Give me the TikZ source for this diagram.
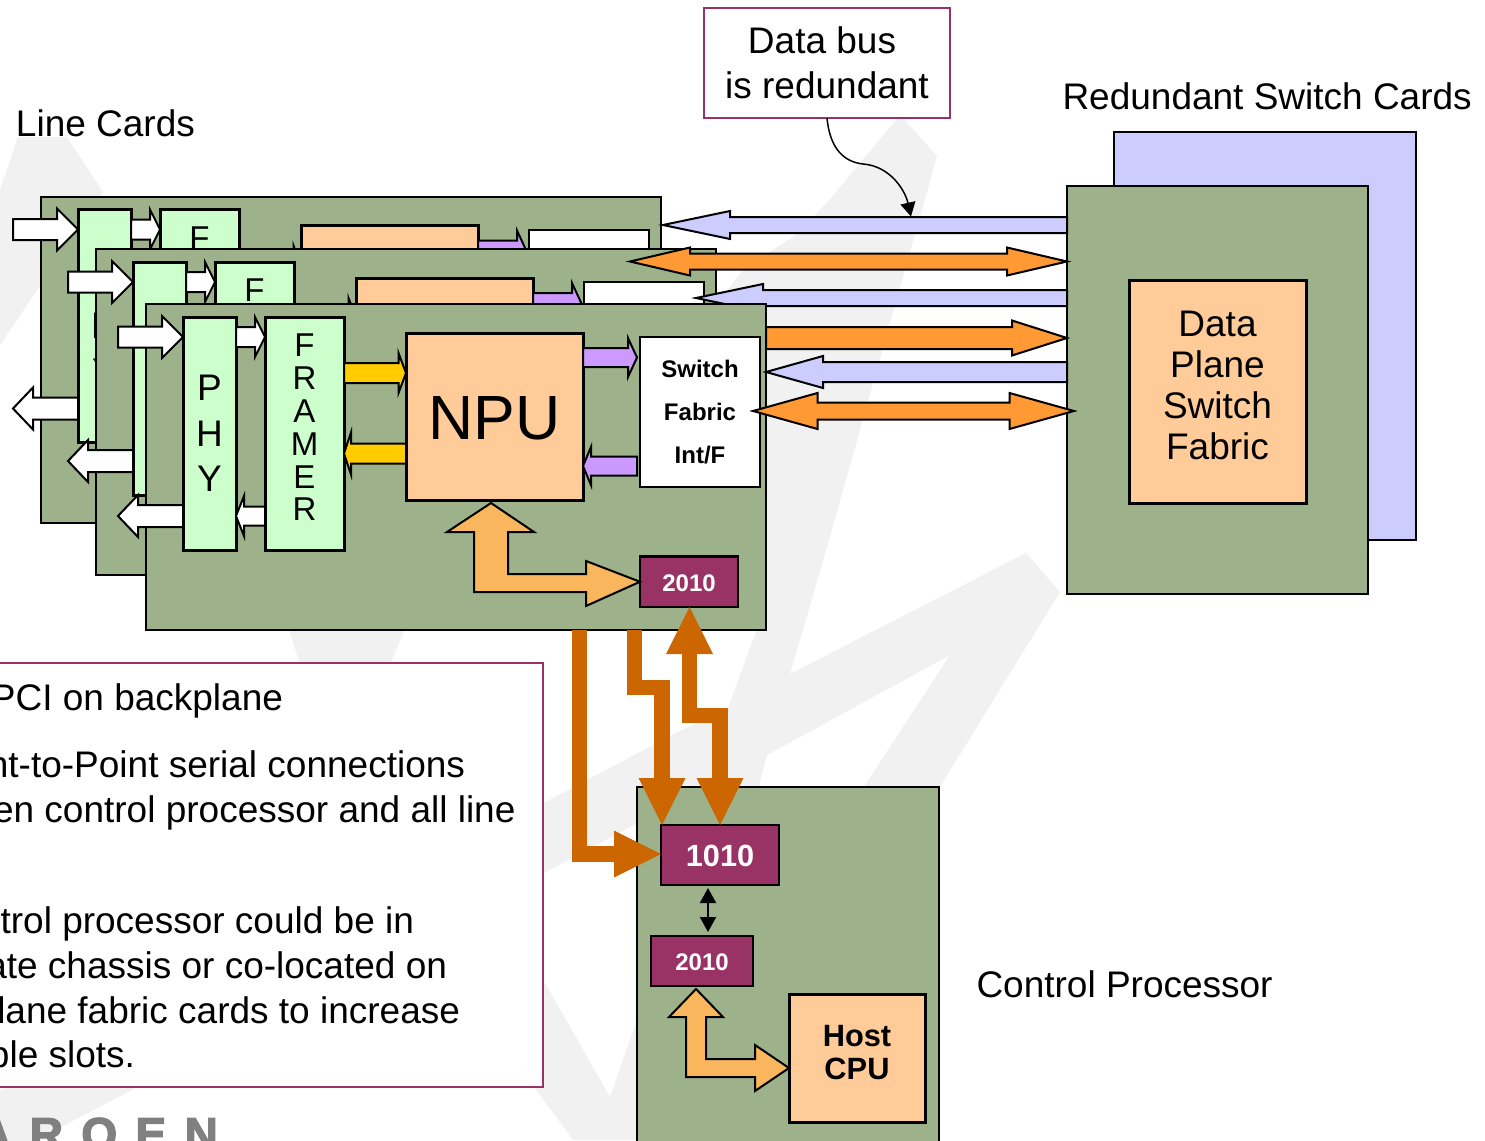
\documentclass[tikz,border=0pt]{standalone}
\usepackage{fontspec}
\setmainfont{Liberation Sans}
\usetikzlibrary{calc,arrows.meta}
\definecolor{cardgreen}{HTML}{9DB28A}
\definecolor{lgreen}{HTML}{CCFFCC}
\definecolor{peach}{HTML}{FFCC99}
\definecolor{lblue}{HTML}{CCCCFF}
\definecolor{bandorange}{HTML}{FF9933}
\definecolor{amber}{HTML}{FFCC00}
\definecolor{lpurple}{HTML}{CC99FF}
\definecolor{dorange}{HTML}{CC6600}
\definecolor{elbowc}{HTML}{F9B65C}
\definecolor{plum}{HTML}{993366}
\definecolor{wmark}{HTML}{F1F1F1}
\newcommand{\fs}[2]{\fontsize{#1}{#2}\selectfont}
\newcommand{\lowr}[2][1pt]{\raisebox{-#1}[\height][\depth]{#2}}
\tikzset{
  x=1pt,y=-1pt,
  baseshape/.style={rectangle,inner sep=0pt,outer sep=0pt,align=center,text=black},
  cardbox/.style={baseshape,draw=black,line width=2pt,fill=cardgreen},
  chipbox/.style={baseshape,draw=black,line width=3pt,fill=lgreen},
  npubox/.style={baseshape,draw=black,line width=3pt,fill=peach},
  swbox/.style={baseshape,draw=black,line width=2pt,fill=white},
  bluebox/.style={baseshape,draw=black,line width=2pt,fill=lblue},
  plumbox/.style={baseshape,draw=black,line width=2.5pt,fill=plum,text=white,font=\fs{24}{28}\bfseries},
  notebox/.style={baseshape,draw=plum,line width=2pt,fill=white},
  plain/.style={inner sep=0pt,outer sep=0pt,font=\fs{37}{45},text=black},
  arrowline/.style={draw=black,line width=2pt,miter limit=8},
  wideline/.style={draw=dorange,line width=15.5pt},
  wedgetip/.tip={Triangle[length=47pt,width=47pt,line width=0pt]},
}
\newcommand{\dbox}[7][]{\node[#6,minimum width={(#4-(#2))*1pt},minimum height={(#5-(#3))*1pt},#1] (#7)
  at ({((#2)+(#4))/2},{((#3)+(#5))/2})}
\newcommand{\harrow}[6][]{\draw[arrowline,#1] let \p1=(#2),\p2=(#3),\n1={ifthenelse(\x2>\x1,1,-1)} in
  (\x1,\y1+#4pt)--(\x2-\n1*#5pt,\y1+#4pt)--(\x2-\n1*#5pt,\y1+#6pt)--(\x2,\y2)--
  (\x2-\n1*#5pt,\y1-#6pt)--(\x2-\n1*#5pt,\y1-#4pt)--(\x1,\y1-#4pt)--cycle;}
\newcommand{\hdarrow}[6][]{\draw[arrowline,#1] let \p1=(#2),\p2=(#3),\n1={ifthenelse(\x2>\x1,1,-1)} in
  (\x1,\y1)--(\x1+\n1*#5pt,\y1+#6pt)--(\x1+\n1*#5pt,\y1+#4pt)--(\x2-\n1*#5pt,\y1+#4pt)--(\x2-\n1*#5pt,\y1+#6pt)--(\x2,\y2)--
  (\x2-\n1*#5pt,\y1-#6pt)--(\x2-\n1*#5pt,\y1-#4pt)--(\x1+\n1*#5pt,\y1-#4pt)--(\x1+\n1*#5pt,\y1-#6pt)--cycle;}
% prefix, dx, dy, switch extra dx, PHY text, framer text, NPU text, switch text
\newcommand{\linecard}[8]{%
  \def\cdx{#2}\def\cdy{#3}\def\csw{#4}%
  \dbox{146+\cdx}{304+\cdy}{766+\cdx}{630+\cdy}{cardbox}{#1card}{};
  \dbox{183+\cdx}{317+\cdy}{236+\cdx}{550+\cdy}{chipbox,font=\fs{37}{45.5}}{#1phy}{#5};
  \dbox{265+\cdx}{317+\cdy}{344+\cdx}{550+\cdy}{chipbox,font=\fs{33}{32.8}}{#1fr}{#6};
  \dbox{406+\cdx}{333+\cdy}{583+\cdx}{500+\cdy}{npubox,font=\fs{62.5}{70}}{#1npu}{#7};
  \dbox{640+\cdx+\csw}{337+\cdy}{760+\cdx+\csw}{487+\cdy}{swbox,font=\fs{24}{43}\bfseries}{#1sw}{#8};
  \coordinate (#1ri) at (118+\cdx,337+\cdy);
  \coordinate (#1ro) at (118+\cdx,516+\cdy);
  \coordinate (#1ryo) at (0,373+\cdy);
  \coordinate (#1ryb) at (0,453.5+\cdy);
  \coordinate (#1rpo) at (0,357.5+\cdy);
  \coordinate (#1rpb) at (0,466+\cdy);
  \harrow[fill=white]{#1ri}{#1phy.west |- #1ri}{10.5}{21}{21}
  \harrow[fill=white]{#1phy.east |- #1ri}{#1fr.west |- #1ri}{10}{10}{20}
  \harrow[fill=white]{#1phy.west |- #1ro}{#1ro}{11}{20}{21}
  \harrow[fill=white]{#1fr.west |- #1ro}{#1phy.east |- #1ro}{9.5}{8}{20}
  \harrow[fill=amber]{#1fr.east |- #1ryo}{#1npu.west |- #1ryo}{10}{7.5}{20}
  \harrow[fill=amber]{#1npu.west |- #1ryb}{#1fr.east |- #1ryb}{10}{7}{21}
  \harrow[fill=lpurple]{#1npu.east |- #1rpo}{$(#1sw.west |- #1rpo)+(-3,0)$}{9.5}{9}{19.5}
  \harrow[fill=lpurple]{$(#1sw.west |- #1rpb)+(-3,0)$}{#1npu.east |- #1rpb}{9.5}{8}{19}
}
\newcommand{\frup}{\\[-20.8pt]\mbox{}}
\begin{document}
\begin{tikzpicture}
\path[use as bounding box] (0,0) rectangle (1485,1140);
\clip (0,0) rectangle (1485,1140);
\fill[white] (0,0) rectangle (1485,1140);
% watermark
\fill[wmark] (900,115)--(937,156)--(829,540)--(790,674)--(1026,553)--(1060,592)--(938,790)--(862,790)--(950,655)--(767,755)--(758,790)--(700,790)--(540,875)--(105,1104)--(0,1159)--(0,1091)--(540,805)--(672,735)--(728,708)--(764,610)--(740,400)--(717,303)--(743,270)--(800,232)--(831,198)--cycle;
\fill[wmark] (18,137)--(67,137)--(103,192)--(0,345)--(0,190)--cycle;
\fill[wmark] (286,620)--(408,620)--(388,670)--(302,670)--cycle;
\fill[wmark] (500,960)--(545,983)--(610,1097)--(637,1020)--(645,1140)--(573,1140)--(500,1040)--cycle;
% texts
\node[plain,anchor=base west] (lclabel) at (16,136) {Line Cards};
\node[plain,anchor=base west] (rsclabel) at (1062.5,109) {Redundant Switch Cards};
\node[plain,anchor=base west] (cplabel) at (976.5,997) {Control Processor};
% data bus note
\dbox{704}{8}{950}{118}{notebox,font=\fs{37}{45}}{databus}{Data bus\hspace*{10pt}\\is redundant};
% switch cards
\dbox{1114}{132}{1416}{540}{bluebox}{backsw}{};
\dbox{1067}{186}{1368}{594}{cardbox}{frontsw}{};
\dbox{1129}{280}{1306}{503}{npubox,font=\fs{37}{41}}{dpfabric}{Data\\Plane\\Switch\\Fabric\\[-28pt]\mbox{}};
% line cards
\linecard{a}{-105}{-107.5}{-6}{P\\H\\Y}{F\\\mbox{}\\\mbox{}\\\mbox{}\\\mbox{}\\\mbox{}\frup}{}{}
\linecard{b}{-50}{-55}{-6}{}{F\\\mbox{}\\\mbox{}\\\mbox{}\\\mbox{}\\\mbox{}\frup}{}{}
% data bus arrows behind the front card
\coordinate (t1) at (663,225);
\coordinate (t2) at (630,261.5);
\coordinate (t3) at (696,298);
\harrow[fill=lblue]{frontsw.west |- t1}{t1}{8}{67}{14}
\hdarrow[fill=bandorange]{t2}{frontsw.west |- t2}{8}{60}{14}
\harrow[fill=lblue]{frontsw.west |- t3}{t3}{8}{67}{14}
% front line card
\linecard{c}{0}{0}{0}{P\\H\\Y}{F\\R\\A\\M\\E\\R\frup}{\lowr[2pt]{NPU}}{Switch\\Fabric\\Int/F}
\dbox{640}{556.5}{738}{607}{plumbox}{cchip}{\lowr{2010}};
\coordinate (t4) at (766,338);
\coordinate (t5) at (766,372);
\coordinate (t6) at (753,411);
\coordinate (t7) at (1074,411);
\harrow[fill=bandorange]{t4}{frontsw.west |- t4}{11}{55}{17.5}
\harrow[fill=lblue]{frontsw.west |- t5}{t5}{10}{57}{16}
\hdarrow[fill=bandorange]{t6}{t7}{8.5}{64.5}{18}
% callout
\coordinate (busend) at (911,216.5);
\draw[black,line width=1.5pt,-{Triangle[length=14pt,width=15pt]}] (databus.south -| 827,0) .. controls (830,150) and (845,162) .. (863,164) .. controls (890,166) and (905,190) .. (busend);
% npu-chip elbow
\coordinate (ta) at (491,503);
\draw[arrowline,fill=elbowc] (ta)--(534,532)--(508,532)--(508,574)--(586,574)--(586,561)--(cchip.west)--(586,606)--(586,592)--(474,592)--(474,532)--(447,532)--cycle;
% notes box
\dbox{-20}{663}{543}{1087}{notebox}{notes}{};
\node[plain,anchor=base east] (n1) at (283,710) {PCI on backplane};
\node[plain,anchor=base east] (n2) at (465,777) {nt-to-Point serial connections};
\node[plain,anchor=base east] (n3) at (515.5,822) {en control processor and all line};
\node[plain,anchor=base east] (n4) at (414,933) {trol processor could be in};
\node[plain,anchor=base east] (n5) at (447,978) {ate chassis or co-located on};
\node[plain,anchor=base east] (n6) at (460,1023) {lane fabric cards to increase};
\node[plain,anchor=base east] (n7) at (135,1067) {ble slots.};
\node[anchor=base west,inner sep=0pt,text={rgb,255:red,128;green,128;blue,128},font=\fs{46}{46}\bfseries\addfontfeature{FakeBold=3,LetterSpace=40}] (logo) at (-22,1150) {AROEN};
% control processor
\dbox{637}{787}{939}{1160}{cardbox}{ctrl}{};
\dbox{661}{825}{779}{885}{plumbox,font=\fs{30.7}{34}\bfseries}{cten}{\lowr{1010}};
\dbox{651}{936}{753}{986}{plumbox}{ctwenty}{\lowr{2010}};
\dbox{789}{994}{925}{1122}{npubox,font=\fs{30.8}{33}\bfseries}{host}{Host\\CPU\\[-22pt]\mbox{}};
\coordinate (ra) at (579.5,854);
\draw[wideline,-{wedgetip}] (ccard.south -| ra) -- (ra) -- (cten.west |- ra);
\coordinate (rb) at (634.5,687.5);
\coordinate (rc) at (662,687.5);
\draw[wideline,-{wedgetip}] (ccard.south -| rb) -- (rb) -- (rc) -- (cten.north -| rc);
\coordinate (rd) at (689.5,715.5);
\coordinate (re) at (720,715.5);
\draw[wideline,{wedgetip}-{wedgetip}] (cchip.south -| rd) -- (rd) -- (re) -- (cten.north -| re);
\draw[black,line width=2pt,{Triangle[length=15pt,width=16pt]}-{Triangle[length=15pt,width=16pt]},shorten <=3pt,shorten >=4pt] (cten.south -| 708,0) -- (ctwenty.north -| 708,0);
\coordinate (tb) at (696,989);
\draw[arrowline,fill=elbowc] (tb)--(723,1017)--(706,1017)--(706,1059)--(755,1059)--(755,1045)--(host.west |- 0,1068)--(755,1091)--(755,1077)--(686,1077)--(686,1017)--(669,1017)--cycle;
\end{tikzpicture}
\end{document}
